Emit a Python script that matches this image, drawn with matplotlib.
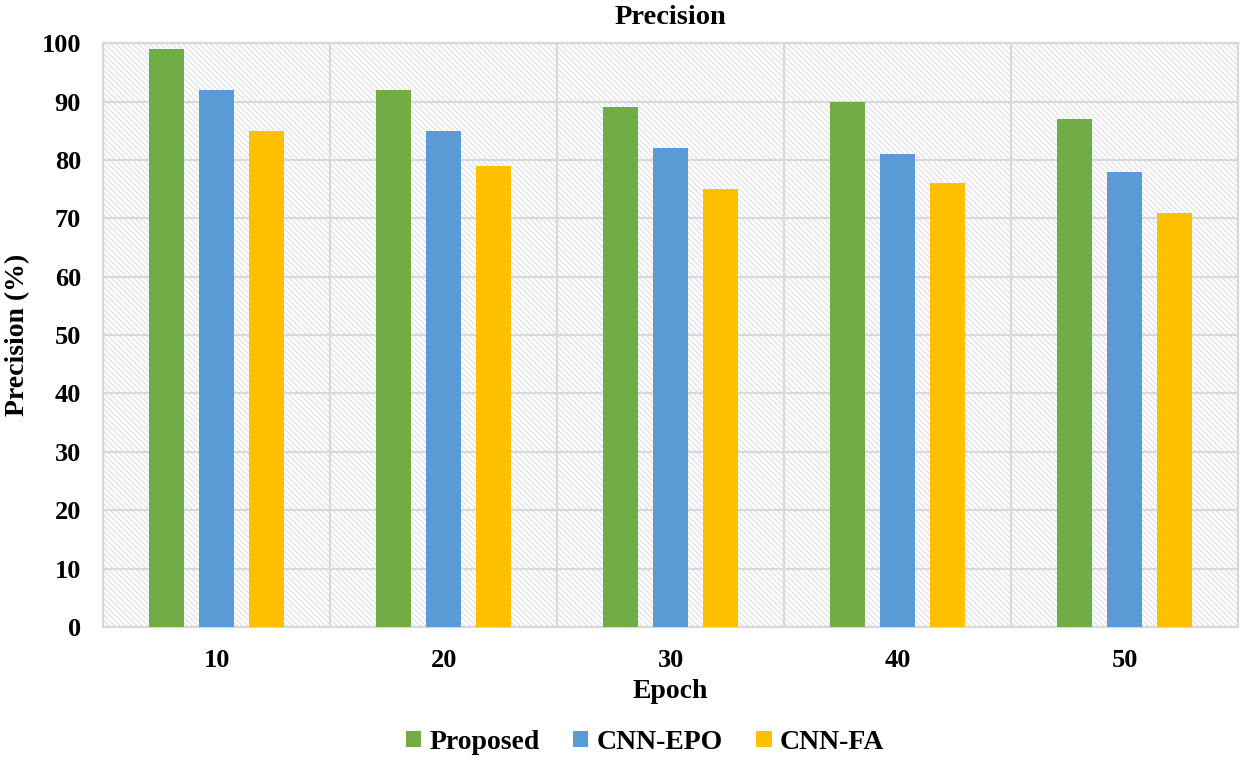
import matplotlib.pyplot as plt
from matplotlib.patches import Rectangle
import numpy as np

epochs = ["10", "20", "30", "40", "50"]
proposed = [99, 92, 89, 90, 87]
cnn_epo = [92, 85, 82, 81, 78]
cnn_fa = [85, 79, 75, 76, 71]

plt.rcParams['font.family'] = ['Liberation Serif', 'DejaVu Serif']
plt.rcParams['font.weight'] = 'bold'
plt.rcParams['hatch.color'] = '#dadada'
plt.rcParams['hatch.linewidth'] = 0.7

fig = plt.figure(figsize=(12.43, 7.59), dpi=100)
ax = fig.add_axes([0.083, 0.174, 0.913, 0.769])

x = np.arange(len(epochs))
w = 0.154
step = 0.22

# fondo rayado
ax.add_patch(Rectangle((0, 0), 1, 1, transform=ax.transAxes, facecolor='white',
                       edgecolor='#dadada', hatch='\\\\\\\\\\\\', linewidth=0, zorder=0))

ax.bar(x - step, proposed, w, color='#70ad47', label='Proposed', zorder=3)
ax.bar(x, cnn_epo, w, color='#5b9bd5', label='CNN-EPO', zorder=3)
ax.bar(x + step, cnn_fa, w, color='#ffc000', label='CNN-FA', zorder=3)

ax.set_xlim(-0.5, len(epochs) - 0.5)
ax.set_ylim(0, 100)
ax.set_yticks(range(0, 101, 10))
ax.set_xticks(x)
ax.set_xticklabels(epochs, fontsize=19, fontweight='bold')
ax.set_xticks(np.arange(-0.5, len(epochs)), minor=True)
ax.tick_params(axis='y', labelsize=19, length=0, pad=16)
ax.tick_params(axis='x', which='both', length=0, pad=16)
for lbl in ax.get_yticklabels():
    lbl.set_fontweight('bold')

ax.grid(axis='y', color='#d9d9d9', linewidth=1.6, zorder=1)
ax.grid(axis='x', which='minor', color='#d9d9d9', linewidth=1.6, zorder=1)
for s in ax.spines.values():
    s.set_color('#d9d9d9')
    s.set_linewidth(1.6)

ax.set_title("Precision", fontsize=20.5, fontweight='bold', pad=14)
ax.set_ylabel("Precision (%)", fontsize=20, fontweight='bold', labelpad=8)
ax.set_xlabel("Epoch", fontsize=20, fontweight='bold', labelpad=5)

fig.legend(*ax.get_legend_handles_labels(), loc='center', bbox_to_anchor=(0.519, 0.022),
           ncol=3, frameon=False, handlelength=0.55, handleheight=0.55, handletextpad=0.3,
           columnspacing=1.2, prop={'weight': 'bold', 'size': 20})

fig.savefig("out.png", dpi=100)
